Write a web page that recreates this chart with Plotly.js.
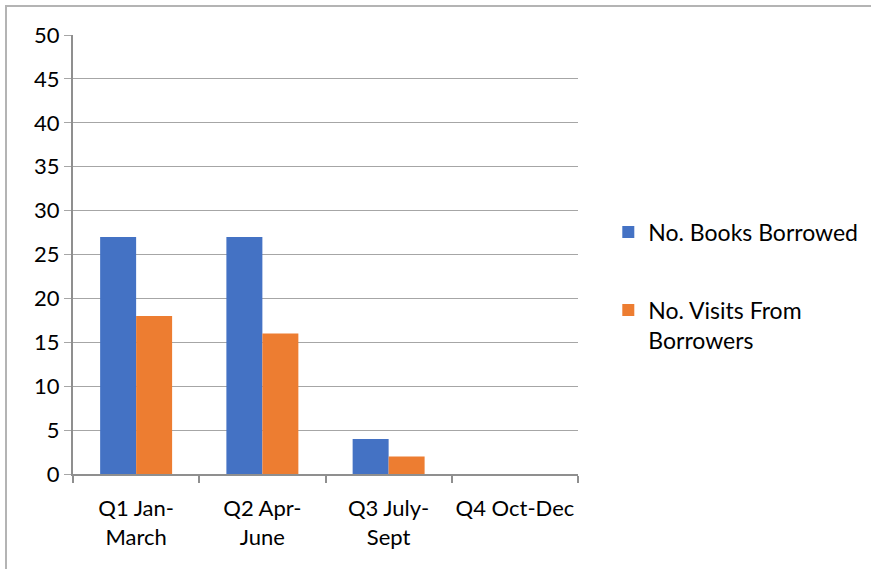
<!DOCTYPE html>
<html>
<head>
<meta charset="utf-8">
<script src="https://cdn.plot.ly/plotly-3.0.1.min.js"></script>
<style>
html,body{margin:0;padding:0;background:#fff;}
#chart{width:871px;height:569px;position:absolute;left:0;top:0;}
#frame{position:absolute;left:5px;top:5px;width:866px;height:564px;border-left:2px solid #b4b4b4;border-top:2px solid #b4b4b4;pointer-events:none;}
</style>
</head>
<body>
<div id="chart"></div>
<div id="frame"></div>
<script>
var categories = ["Q1 Jan-<br>March", "Q2 Apr-<br>June", "Q3 July-<br>Sept", "Q4 Oct-Dec"];
var booksBorrowed = [27, 27, 4, 0];
var visitsFromBorrowers = [18, 16, 2, 0];
var seriesNames = ["No. Books Borrowed", "No. Visits From<br>Borrowers"];
var yTicks = [0, 5, 10, 15, 20, 25, 30, 35, 40, 45, 50];

var FONT = "Lato, 'Open Sans', sans-serif";

var data = [
  {type: "bar", name: seriesNames[0], x: categories, y: booksBorrowed,
   marker: {color: "#4472C4"}, legendgroup: "a"},
  {type: "bar", name: seriesNames[1], x: categories, y: visitsFromBorrowers,
   marker: {color: "#ED7D31"}, legendgroup: "b"}
];

var layout = {
  width: 871, height: 569,
  margin: {l: 73, r: 293, t: 35, b: 95, autoexpand: false},
  paper_bgcolor: "#fff", plot_bgcolor: "#fff",
  font: {family: FONT, size: 22, color: "#000"},
  barmode: "group", bargap: 0.43, bargroupgap: 0,
  xaxis: {
    type: "category", automargin: false, tickangle: 0,
    showline: true, linecolor: "#8f8f8f", linewidth: 2,
    ticks: "outside", tickson: "boundaries", ticklen: 7, tickcolor: "#8f8f8f", tickwidth: 2,
    ticklabelstandoff: 14,
    showgrid: false, tickfont: {family: FONT, size: 22, color: "#000"}
  },
  yaxis: {
    range: [0, 50], tickvals: yTicks, ticktext: yTicks.map(String), automargin: false,
    showline: true, linecolor: "#8f8f8f", linewidth: 2,
    ticks: "outside", ticklen: 7, tickcolor: "#a6a6a6", tickwidth: 1,
    showgrid: true, gridcolor: "#a6a6a6", gridwidth: 1, zeroline: false,
    tickfont: {family: FONT, size: 22, color: "#000"}
  },
  showlegend: true,
  legend: {
    x: 1.06, xanchor: "left", y: 0.6, yanchor: "top",
    traceorder: "grouped", tracegroupgap: 45, valign: "top",
    font: {family: FONT, size: 23, color: "#000"},
    bgcolor: "rgba(0,0,0,0)"
  }
};

Plotly.newPlot("chart", data, layout, {displayModeBar: false, staticPlot: true});
</script>
</body>
</html>
